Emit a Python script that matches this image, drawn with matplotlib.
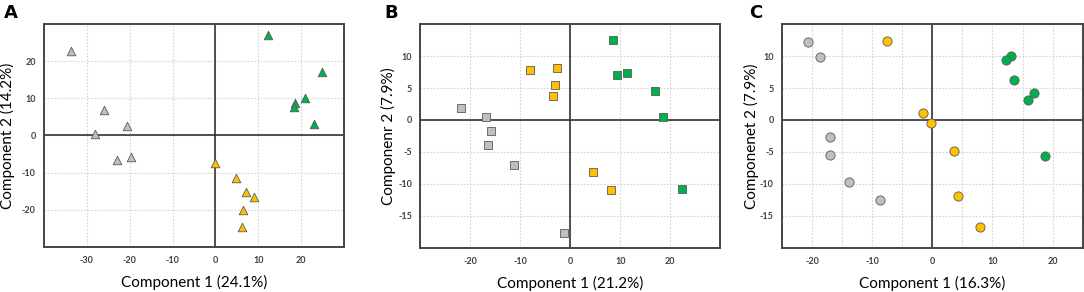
import matplotlib.pyplot as plt
import numpy as np
import matplotlib.ticker as ticker

plt.rcParams['font.family'] = ['Lato', 'DejaVu Sans']

grey_c = '#BFBFBF'
yellow_c = '#FFC000'
green_c = '#00B050'

# panel A (triangles)
a_grey_x = [-33.8, -26.0, -28.1, -20.7, -22.9, -19.8]
a_grey_y = [22.8, 6.8, 0.45, 2.6, -6.5, -5.8]
a_green_x = [12.3, 24.9, 21.0, 18.6, 18.4, 23.1]
a_green_y = [27.2, 17.1, 10.2, 8.7, 7.7, 3.2]
a_yellow_x = [0.0, 4.8, 7.1, 8.9, 6.4, 6.3]
a_yellow_y = [-7.4, -11.4, -15.2, -16.5, -20.2, -24.8]

# panel B (squares)
b_grey_x = [-21.9, -16.9, -15.9, -16.4, -11.2, -1.3]
b_grey_y = [1.8, 0.5, -1.7, -3.9, -7.0, -17.7]
b_yellow_x = [-8.0, -2.6, -3.1, -3.4, 4.6, 8.2]
b_yellow_y = [7.8, 8.1, 5.5, 3.7, -8.1, -10.9]
b_green_x = [8.5, 9.4, 11.3, 16.9, 18.6, 22.3]
b_green_y = [12.5, 7.0, 7.4, 4.5, 0.4, -10.8]

# panel C (circles)
c_grey_x = [-20.6, -18.6, -17.1, -17.1, -13.9, -8.7]
c_grey_y = [12.2, 9.8, -2.6, -5.5, -9.7, -12.6]
c_yellow_x = [-7.6, -1.5, -0.2, 3.6, 4.3, 8.0]
c_yellow_y = [12.4, 1.1, -0.4, -4.9, -11.9, -16.7]
c_green_x = [13.0, 12.2, 13.6, 16.9, 15.9, 18.8]
c_green_y = [10.1, 9.4, 6.3, 4.3, 3.1, -5.6]

fig = plt.figure(figsize=(10.84, 2.92), dpi=100)


def setup(ax, xlim, ylim, xgrid, ygrid, xticks, yticks, xlabel, ylabel, ylab_x):
    ax.set_xlim(xlim)
    ax.set_ylim(ylim)
    ax.set_xticks(xgrid)
    ax.set_yticks(ygrid)
    ax.set_xticklabels([str(v) if v in xticks else '' for v in xgrid])
    ax.set_yticklabels([str(v) if v in yticks else '' for v in ygrid])
    ax.grid(True, color='#D4D4D4', linestyle=(0, (1.5, 1.5)), linewidth=0.8)
    ax.set_axisbelow(True)
    ax.axhline(0, color='#333333', linewidth=1.2, zorder=1)
    ax.axvline(0, color='#333333', linewidth=1.2, zorder=1)
    ax.tick_params(length=0, labelsize=6.5, colors='#404040', pad=7)
    ax.tick_params(axis='y', pad=6)
    for t in ax.get_xticklabels() + ax.get_yticklabels():
        t.set_fontweight('bold')
    for s in ax.spines.values():
        s.set_color('#444444')
        s.set_linewidth(1.4)
    ax.set_xlabel(xlabel, fontsize=11, labelpad=7)
    ax.set_ylabel(ylabel, fontsize=11)
    ax.yaxis.set_label_coords(ylab_x, 0.5)


def pts(ax, x, y, color, marker, size):
    ax.scatter(x, y, s=size, c=color, marker=marker, edgecolors='#5A5A5A',
               linewidths=0.6, zorder=3)


axA = fig.add_axes([0.0406, 0.155, 0.2768, 0.762])
setup(axA, (-40, 30), (-30, 30), [-30, -20, -10, 0, 10, 20], [-20, -10, 0, 10, 20],
      [-30, -20, -10, 0, 10, 20], [-20, -10, 0, 10, 20],
      'Component 1 (24.1%)', 'Component 2 (14.2%)', -0.097)
pts(axA, a_grey_x, a_grey_y, grey_c, '^', 38)
pts(axA, a_green_x, a_green_y, green_c, '^', 38)
pts(axA, a_yellow_x, a_yellow_y, yellow_c, '^', 38)

axB = fig.add_axes([0.3877, 0.152, 0.2768, 0.765])
setup(axB, (-30, 30), (-20, 15), [-20, -10, 0, 10, 20], [-15, -10, -5, 0, 5, 10],
      [-20, -10, 0, 10, 20], [-15, -10, -5, 0, 5, 10],
      'Component 1 (21.2%)', 'Componenr 2 (7.9%)', -0.08)
pts(axB, b_grey_x, b_grey_y, grey_c, 's', 36)
pts(axB, b_yellow_x, b_yellow_y, yellow_c, 's', 36)
pts(axB, b_green_x, b_green_y, green_c, 's', 36)

axC = fig.add_axes([0.7214, 0.152, 0.2774, 0.765])
setup(axC, (-25, 25), (-20, 15), [-20, -15, -10, -5, 0, 5, 10, 15, 20], [-15, -10, -5, 0, 5, 10],
      [-20, -10, 0, 10, 20], [-15, -10, -5, 0, 5, 10],
      'Component 1 (16.3%)', 'Componenet 2 (7.9%)', -0.076)
pts(axC, c_grey_x, c_grey_y, grey_c, 'o', 44)
pts(axC, c_yellow_x, c_yellow_y, yellow_c, 'o', 44)
pts(axC, c_green_x, c_green_y, green_c, 'o', 44)

fig.text(0.004, 0.985, 'A', fontsize=13, fontweight='bold', va='top', family='DejaVu Sans')
fig.text(0.355, 0.985, 'B', fontsize=13, fontweight='bold', va='top', family='DejaVu Sans')
fig.text(0.691, 0.985, 'C', fontsize=13, fontweight='bold', va='top', family='DejaVu Sans')

fig.savefig('out.png', dpi=100)
